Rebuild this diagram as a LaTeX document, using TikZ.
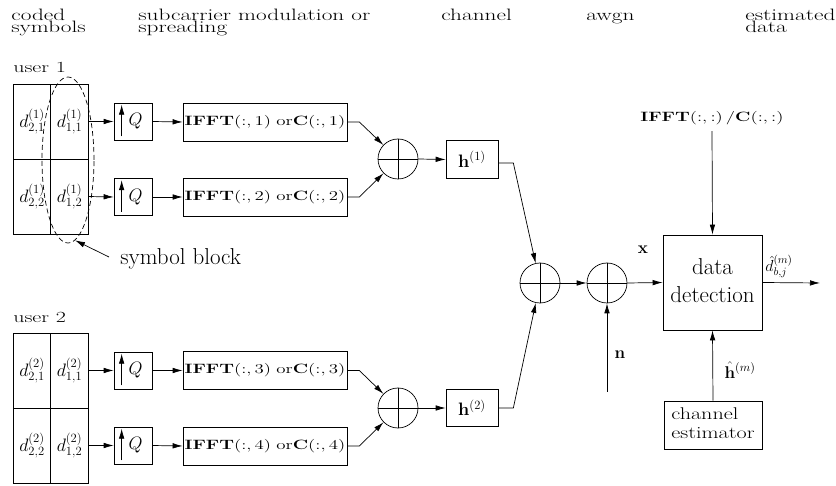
\RequirePackage{fix-cm}
\documentclass[tikz,border=0pt]{standalone}
\usepackage{graphicx}
\usetikzlibrary{arrows.meta,shapes.geometric}
\newcommand\sx[2]{\scalebox{#1}[1]{#2}}
\newcommand\fs[1]{\fontsize{#1}{#1}\selectfont}
\begin{document}
\begin{tikzpicture}[x=1pt,y=-1pt, line width=0.7pt,
 arr/.style={-{Latex[length=10pt,width=5.5pt]}},
 box/.style={draw, inner sep=0pt},
 sumc/.style={draw, circle, minimum size=40pt, inner sep=0pt,
   path picture={\draw (path picture bounding box.north) -- (path picture bounding box.south)
     (path picture bounding box.west) -- (path picture bounding box.east);}},
 cell/.style={draw, minimum width=37.5pt, minimum height=75pt, inner sep=0pt, font=\fs{18}},
 qbox/.style={box, minimum width=38pt, minimum height=37pt, font=\fs{18}},
 fbox/.style={box, minimum width=164pt, minimum height=38pt, font=\fs{13.5}},
 hbox/.style={box, minimum width=52pt, minimum height=37.5pt, font=\fs{18}},
 lbl/.style={inner sep=0pt},
 hdr/.style={lbl, anchor=base west, font=\fs{16.5}},
]
\useasboundingbox (0,0) rectangle (836,486);

% header
\node[hdr] (t1) at (11,21) {\sx{1.41}{coded}};
\node[hdr] (t2) at (11,32.5) {\sx{1.41}{symbols}};
\node[hdr] (t3) at (138,21) {\sx{1.41}{subcarrier modulation or}};
\node[hdr] (t4) at (138,32.5) {\sx{1.41}{spreading}};
\node[hdr] (t5) at (441,21) {\sx{1.41}{channel}};
\node[hdr] (t6) at (586,21) {\sx{1.41}{awgn}};
\node[hdr] (t7) at (745,21) {\sx{1.41}{estimated}};
\node[hdr] (t8) at (745,32.5) {\sx{1.41}{data}};

% user labels
\node[lbl, anchor=base west, font=\fs{15.5}] (u1) at (13,73) {\sx{1.42}{user 1}};
\node[lbl, anchor=base west, font=\fs{15.5}] (u2) at (13,323) {\sx{1.42}{user 2}};

% grids
\node[cell] (a11) at (32,121.5) {$d^{(1)}_{2,1}$};
\node[cell] (a12) at (69.5,121.5) {$d^{(1)}_{1,1}$};
\node[cell] (a21) at (32,196.5) {$d^{(1)}_{2,2}$};
\node[cell] (a22) at (69.5,196.5) {$d^{(1)}_{1,2}$};
\node[cell] (b11) at (32,370.5) {$d^{(2)}_{2,1}$};
\node[cell] (b12) at (69.5,370.5) {$d^{(2)}_{1,1}$};
\node[cell] (b21) at (32,445.5) {$d^{(2)}_{2,2}$};
\node[cell] (b22) at (69.5,445.5) {$d^{(2)}_{1,2}$};

% symbol block ellipse
\node[draw, ellipse, dash pattern=on 5pt off 3pt, minimum width=52pt, minimum height=166pt, inner sep=0pt] (blk) at (68,160) {};
\node[lbl, anchor=base west, font=\fs{23}] (sb) at (120,265) {symbol block};
\coordinate (sbt) at (109,257);
\draw[arr] (sbt) -- (blk.-85);

% Q boxes
\node[qbox] (q1) at (133,121.5) {\hspace*{5pt}$Q$};
\node[qbox] (q2) at (133,197) {\hspace*{5pt}$Q$};
\node[qbox] (q3) at (133,370.5) {\hspace*{5pt}$Q$};
\node[qbox] (q4) at (133,445.5) {\hspace*{5pt}$Q$};
\foreach \q in {q1,q2,q3,q4}{
  \draw[arr] ([xshift=8pt,yshift=4pt]\q.south west) -- ([xshift=8pt,yshift=-2pt]\q.north west);
}

% IFFT boxes
\node[fbox] (f1) at (265,122) {\sx{1.4}{$\mathbf{IFFT}(:,1)\;\mathrm{or}\mathbf{C}(:,1)$}};
\node[fbox] (f2) at (265,197) {\sx{1.4}{$\mathbf{IFFT}(:,2)\;\mathrm{or}\mathbf{C}(:,2)$}};
\node[fbox] (f3) at (265,370.5) {\sx{1.4}{$\mathbf{IFFT}(:,3)\;\mathrm{or}\mathbf{C}(:,3)$}};
\node[fbox] (f4) at (265,446) {\sx{1.4}{$\mathbf{IFFT}(:,4)\;\mathrm{or}\mathbf{C}(:,4)$}};

% sums
\node[sumc] (s1) at (398,159) {};
\node[sumc] (s2) at (398,408) {};
\node[sumc] (s3) at (540,283) {};
\node[sumc] (s4) at (607,283) {};

% channel boxes
\node[hbox] (hb1) at (472,159.5) {$\mathbf{h}^{(1)}$};
\node[hbox] (hb2) at (472,408) {$\mathbf{h}^{(2)}$};

% data detection
\node[box, minimum width=99pt, minimum height=95pt, font=\fontsize{23}{28}\selectfont] (dd) at (712.5,282.5)
  {\begin{tabular}{@{}c@{}}data\\detection\end{tabular}\rule[-16pt]{0pt}{1pt}};
\node[box, minimum width=98pt, minimum height=48pt, font=\fontsize{17}{19}\selectfont] (ce) at (713,425)
  {\sx{1.3}{\begin{tabular}{@{}l@{}}channel\\estimator\end{tabular}}};

% labels
\node[lbl, font=\fs{13.5}] (tl) at (712,118) {\sx{1.4}{$\mathbf{IFFT}(:,:)\,\big/\mathbf{C}(:,:)$}};
\node[lbl, font=\fs{17}] (xl) at (643,250) {$\mathbf{x}$};
\node[lbl, font=\fs{17}] (nl) at (620,355) {$\mathbf{n}$};
\node[lbl, font=\fs{17}] (hl) at (740,370) {$\hat{\mathbf{h}}^{(m)}$};
\node[lbl, font=\fs{16}] (dl) at (779,266) {$\hat{d}^{(m)}_{b,j}$};

\coordinate (nn) at (607,392);
\coordinate (out) at (820,283);

% connectors
\draw[arr] (a12.east) -- (q1.west);
\draw[arr] (a22.east) -- (q2.west);
\draw[arr] (b12.east) -- (q3.west);
\draw[arr] (b22.east) -- (q4.west);
\draw[arr] (q1.east) -- (f1.west);
\draw[arr] (q2.east) -- (f2.west);
\draw[arr] (q3.east) -- (f3.west);
\draw[arr] (q4.east) -- (f4.west);
\draw[arr] (f1.east) -- ++(12pt,0) -- (s1);
\draw[arr] (f2.east) -- ++(12pt,0) -- (s1);
\draw[arr] (f3.east) -- ++(12pt,0) -- (s2);
\draw[arr] (f4.east) -- ++(12pt,0) -- (s2);
\draw[arr] (s1.east) -- (hb1.west);
\draw[arr] (s2.east) -- (hb2.west);
\draw[arr] ([yshift=-3.5pt]hb1.east) -- ++(15pt,0) -- (s3);
\draw[arr] (hb2.east) -- ++(15pt,0) -- (s3);
\draw[arr] (s3.east) -- (s4.west);
\draw[arr] (nn) -- (s4.south);
\draw[arr] (s4.east) -- (dd.west);
\draw[arr] ([yshift=-6pt]tl.south) -- (dd.north);
\draw[arr] (dd.east) -- (out);
\draw[arr] (ce.north) -- (dd.south);
\end{tikzpicture}
\end{document}
